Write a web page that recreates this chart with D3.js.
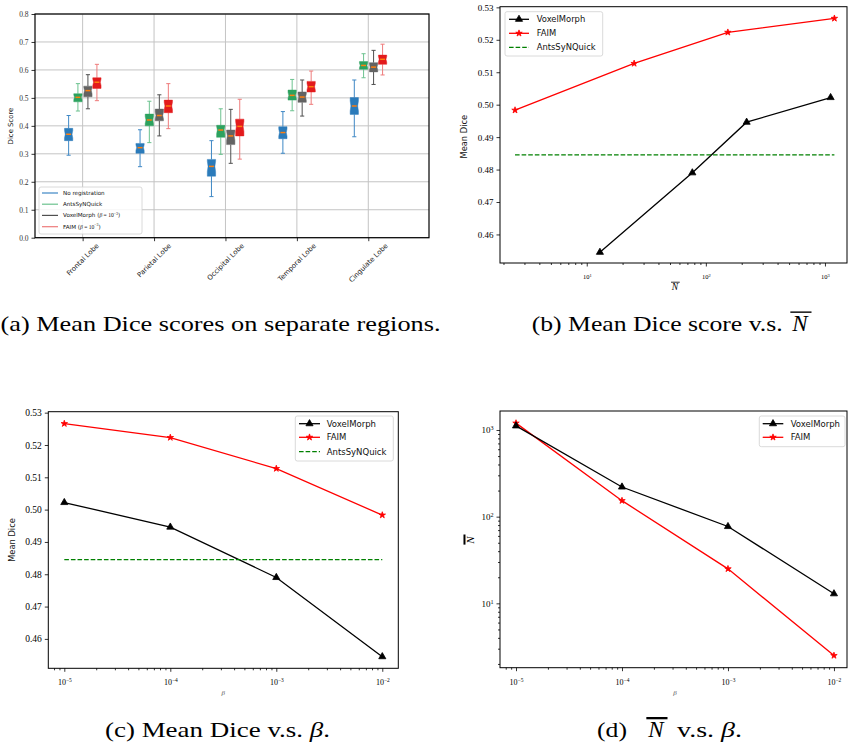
<!doctype html>
<html>
<head>
<meta charset="utf-8">
<title>Mean Dice figure</title>
<script src="https://d3js.org/d3.v7.min.js"></script>
<style>
  body { margin:0; background:#fff; }
  svg { display:block; background:#fff; }
</style>
</head>
<body>
<svg id="fig" width="848" height="742"></svg>
<script>

// ---- data (a): box stats per region, [low whisker, q1, median, q3, high whisker]
var regions = ["Frontal Lobe", "Parietal Lobe", "Occipital Lobe", "Temporal Lobe", "Cingulate Lobe"]
var methodNames = ["No registration", "AntsSyNQuick", "VoxelMorph", "FAIM"]
var noReg = [[0.295, 0.347, 0.370, 0.391, 0.437], [0.254, 0.302, 0.322, 0.337, 0.386],
             [0.147, 0.220, 0.255, 0.280, 0.347], [0.302, 0.354, 0.376, 0.397, 0.451],
             [0.361, 0.441, 0.471, 0.501, 0.564]]
var antsBox = [[0.453, 0.486, 0.502, 0.515, 0.551], [0.340, 0.400, 0.421, 0.442, 0.488],
               [0.298, 0.359, 0.385, 0.402, 0.461], [0.454, 0.492, 0.509, 0.528, 0.566],
               [0.572, 0.602, 0.616, 0.630, 0.658]]
var vmBox = [[0.461, 0.504, 0.526, 0.542, 0.583], [0.364, 0.418, 0.437, 0.460, 0.511],
             [0.266, 0.333, 0.364, 0.385, 0.459], [0.435, 0.484, 0.503, 0.521, 0.564],
             [0.548, 0.593, 0.610, 0.626, 0.670]]
var faimBox = [[0.490, 0.534, 0.556, 0.572, 0.620], [0.390, 0.447, 0.471, 0.492, 0.551],
               [0.281, 0.364, 0.398, 0.424, 0.495], [0.477, 0.521, 0.540, 0.559, 0.596],
               [0.582, 0.620, 0.638, 0.653, 0.692]]
var diceTicks = [0, 0.1, 0.2, 0.3, 0.4, 0.5, 0.6, 0.7, 0.8]

// ---- data (b)(c)(d)
var beta = [1e-5, 1e-4, 1e-3, 1e-2]
var vmDice = [0.5022, 0.4946, 0.4790, 0.4545]
var faimDice = [0.5266, 0.5223, 0.5127, 0.4983]
var vmN = [1115, 220, 77, 12.9]
var faimN = [1200, 153, 25, 2.5]
var antsDice = 0.4845
var meanTicks = [0.46, 0.47, 0.48, 0.49, 0.50, 0.51, 0.52, 0.53]

var SERIF = "'Liberation Serif', 'DejaVu Serif', serif"
var SANS = "'DejaVu Sans', sans-serif"
var svg = d3.select("#fig")

function isPow10(d) { var l = Math.log10(d); return Math.abs(l - Math.round(l)) < 1e-6 }

function styleAxis(ax, font, size) {
  ax.attr("font-family", font).attr("font-size", size)
  ax.select(".domain").remove()
  ax.selectAll(".tick line").attr("stroke", "#000").attr("stroke-width", 0.8)
  ax.selectAll(".tick text").attr("fill", "#000")
}

function powLabels(ax) {
  ax.selectAll(".tick text").each(function(d) {
    var e = Math.round(Math.log10(d)), t = d3.select(this)
    t.text("10")
    t.append("tspan").attr("dy", "-0.5em").attr("font-size", "68%")
      .text(e < 0 ? "\u2212" + (-e) : String(e))
  })
}

function logAxis(g, scale, orient, box, size) {
  var all = scale.ticks()
  var major = all.filter(isPow10), minor = all.filter(function(d) { return !isPow10(d) })
  var mk = orient == "bottom" ? d3.axisBottom : d3.axisLeft
  var tr = orient == "bottom" ? "translate(0," + box.b + ")" : "translate(" + box.l + ",0)"
  g.append("g").attr("transform", tr)
    .call(mk(scale).tickValues(minor).tickSize(2).tickFormat(function() { return "" }))
    .call(styleAxis, SERIF, size)
  var ax = g.append("g").attr("transform", tr)
    .call(mk(scale).tickValues(major).tickSize(3.5).tickPadding(3))
    .call(styleAxis, SERIF, size)
  powLabels(ax)
  return ax
}

function linAxisLeft(g, scale, box, vals, fmt, size) {
  return g.append("g").attr("transform", "translate(" + box.l + ",0)")
    .call(d3.axisLeft(scale).tickValues(vals).tickFormat(d3.format(fmt)).tickSize(3.5).tickPadding(3))
    .call(styleAxis, SERIF, size)
}

function frame(g, box, w) {
  g.append("rect").attr("x", box.l).attr("y", box.t)
    .attr("width", box.r - box.l).attr("height", box.b - box.t)
    .attr("fill", "none").attr("stroke", "#000").attr("stroke-width", w || 1)
}

var triangle = d3.symbol().type(d3.symbolTriangle).size(22)
var star = d3.symbol().type(d3.symbolStar).size(13)

function series(g, xs, ys, x, y, color, sym) {
  var pts = xs.map(function(v, i) { return [x(v), y(ys[i])] })
  g.append("path").attr("d", d3.line()(pts)).attr("fill", "none")
    .attr("stroke", color).attr("stroke-width", 1.3)
  g.selectAll(null).data(pts).enter().append("path").attr("d", sym)
    .attr("transform", function(p) { return "translate(" + p + ")" })
    .attr("fill", color).attr("stroke", color).attr("stroke-width", 0.8)
}

function hline(g, ext, val, x, y) {
  g.append("line").attr("x1", x(ext[0])).attr("x2", x(ext[1]))
    .attr("y1", y(val)).attr("y2", y(val))
    .attr("stroke", "#008000").attr("stroke-width", 1.3).attr("stroke-dasharray", "4.6,2")
}

function legend(g, L, rows) {
  g.append("rect").attr("x", L.x).attr("y", L.y).attr("width", L.w).attr("height", L.h).attr("rx", 2)
    .attr("fill", "#fff").attr("fill-opacity", 0.85).attr("stroke", "#d0d0d0").attr("stroke-width", 0.8)
  rows.forEach(function(r, i) {
    var yy = L.rows[i]
    var ln = g.append("line").attr("x1", L.l1).attr("x2", L.l2).attr("y1", yy).attr("y2", yy)
      .attr("stroke", r.color).attr("stroke-width", L.lw || 1.3)
    if (r.dash) ln.attr("stroke-dasharray", "4.6,2")
    if (r.sym) g.append("path").attr("d", r.sym).attr("transform", "translate(" + ((L.l1 + L.l2) / 2) + "," + yy + ")")
      .attr("fill", r.color).attr("stroke", r.color).attr("stroke-width", 0.8)
    var t = g.append("text").attr("x", L.tx).attr("y", yy).attr("dy", "0.36em")
      .attr("font-family", SANS).attr("font-size", L.fs).attr("fill", "#111")
    t.append("tspan").text(r.label)
    if (r.beta) {
      t.append("tspan").text(" (")
      t.append("tspan").attr("font-family", SERIF).attr("font-style", "italic").text("\u03b2")
      t.append("tspan").attr("font-family", SERIF).text(" = 10")
      t.append("tspan").attr("font-family", SERIF).attr("font-size", L.fs * 0.7).attr("dy", -2.4).text("\u22123")
      t.append("tspan").attr("dy", 2.4).text(")")
    }
  })
}

function nbar(g, x, y, size, barW, rotate) {
  var gg = g.append("g").attr("transform", "translate(" + x + "," + y + ")" + (rotate ? " rotate(-90)" : ""))
  gg.append("text").attr("text-anchor", "middle").attr("font-family", SERIF).attr("font-style", "italic")
    .attr("font-size", size).attr("fill", "#000").text("N")
  gg.append("line").attr("x1", -size * 0.42).attr("x2", size * 0.5)
    .attr("y1", -size * 0.82).attr("y2", -size * 0.82).attr("stroke", "#000").attr("stroke-width", barW)
}

// ================= (a) box plot =================
var A = {l: 35, r: 429, t: 14, b: 237.7}
var ga = svg.append("g")
var xa = d3.scaleLinear().domain([0.333, 5.85]).range([A.l, A.r])
var ya = d3.scaleLinear().domain([0, 0.8]).range([A.b, A.t])

ga.selectAll(".hg").data(diceTicks).enter().append("line")
  .attr("x1", A.l).attr("x2", A.r).attr("y1", function(d) { return ya(d) }).attr("y2", function(d) { return ya(d) })
  .attr("stroke", "#c4c4c4").attr("stroke-width", 1)
ga.selectAll(".vg").data(regions).enter().append("line")
  .attr("x1", function(d, i) { return xa(i + 1) }).attr("x2", function(d, i) { return xa(i + 1) })
  .attr("y1", A.t).attr("y2", A.b).attr("stroke", "#c4c4c4").attr("stroke-width", 1)

var boxSets = [noReg, antsBox, vmBox, faimBox]
var boxFill = ["#2b7bba", "#2ca25f", "#636363", "#e31a1c"]
var whiskCol = ["#3f88c5", "#6cc28f", "#505050", "#ee7b7b"]
var offsets = [-0.196, -0.066, 0.074, 0.2]
var bw = 0.116

boxSets.forEach(function(set, k) {
  set.forEach(function(s, i) {
    var cx = xa(i + 1 + offsets[k]), w = (xa(bw) - xa(0)) / 2
    var lo = ya(s[0]), q1 = ya(s[1]), md = ya(s[2]), q3 = ya(s[3]), hi = ya(s[4])
    var g = ga.append("g")
    g.append("line").attr("x1", cx).attr("x2", cx).attr("y1", lo).attr("y2", q1)
      .attr("stroke", whiskCol[k]).attr("stroke-width", 1)
    g.append("line").attr("x1", cx).attr("x2", cx).attr("y1", q3).attr("y2", hi)
      .attr("stroke", whiskCol[k]).attr("stroke-width", 1)
    ;[lo, hi].forEach(function(yy) {
      g.append("line").attr("x1", cx - w / 2).attr("x2", cx + w / 2).attr("y1", yy).attr("y2", yy)
        .attr("stroke", whiskCol[k]).attr("stroke-width", 1)
    })
    var n = Math.min((q1 - q3) * 0.3, (q1 - md) * 0.8, (md - q3) * 0.8)
    var p = d3.path()
    p.moveTo(cx - w, q1); p.lineTo(cx + w, q1); p.lineTo(cx + w, md + n); p.lineTo(cx + w * 0.82, md)
    p.lineTo(cx + w, md - n); p.lineTo(cx + w, q3); p.lineTo(cx - w, q3); p.lineTo(cx - w, md - n)
    p.lineTo(cx - w * 0.82, md); p.lineTo(cx - w, md + n); p.closePath()
    g.append("path").attr("d", p.toString()).attr("fill", boxFill[k])
      .attr("stroke", boxFill[k]).attr("stroke-opacity", 0.45).attr("stroke-width", 1)
    g.append("line").attr("x1", cx - w * 0.6).attr("x2", cx + w * 0.6).attr("y1", md).attr("y2", md)
      .attr("stroke", "#ff7f0e").attr("stroke-width", 1.5)
  })
})

frame(ga, A, 1.2)
linAxisLeft(ga, ya, A, diceTicks, ".1f", 7.5).selectAll(".tick text").attr("fill", "#333")
var xaAx = ga.append("g").attr("transform", "translate(0," + A.b + ")")
  .call(d3.axisBottom(xa).tickValues([1, 2, 3, 4, 5]).tickSize(3.5).tickFormat(function() { return "" }))
  .call(styleAxis, SANS, 6.9)
regions.forEach(function(r, i) {
  var t = ga.append("text").attr("font-family", SANS).attr("font-size", 6.9).attr("fill", "#222")
    .attr("text-anchor", "middle").attr("dy", "0.35em").text(r)
  var L = t.node().getComputedTextLength()
  var half = (L + 5) * 0.7071 / 2
  t.attr("transform", "translate(" + xa(i + 1) + "," + (A.b + 5 + half) + ") rotate(-45)")
})
ga.append("text").attr("transform", "translate(13.3,126) rotate(-90)").attr("text-anchor", "middle")
  .attr("font-family", SANS).attr("font-size", 6.9).attr("fill", "#111").text("Dice Score")
legend(ga, {x: 39, y: 187, w: 103, h: 47, l1: 42, l2: 58, tx: 63, fs: 5.6, lw: 1.2,
            rows: [193, 204.2, 215.4, 226.7]},
  methodNames.map(function(m, k) { return {label: m, color: whiskCol[k], beta: k >= 2} }))

// ================= (b) Mean Dice vs N =================
var B = {l: 500, r: 847, t: 6.7, b: 263}
var gb = svg.append("g")
var xb = d3.scaleLog().domain([1.87, 1531]).range([B.l, B.r])
var yb = d3.scaleLinear().domain([0.4512, 0.5302]).range([B.b, B.t])
series(gb, faimN, faimDice, xb, yb, "#ff0000", star)
series(gb, vmN, vmDice, xb, yb, "#000", triangle)
hline(gb, d3.extent(faimN), antsDice, xb, yb)
frame(gb, B)
linAxisLeft(gb, yb, B, meanTicks, ".2f", 9)
logAxis(gb, xb, "bottom", B, 6.5).selectAll(".tick text").attr("dy", "1.5em")
gb.append("text").attr("transform", "translate(466.7,136.7) rotate(-90)").attr("text-anchor", "middle")
  .attr("font-family", SANS).attr("font-size", 8.3).attr("fill", "#111").text("Mean Dice")
nbar(gb, 675, 290, 9.5, 0.8, false)
legend(gb, {x: 505, y: 11.7, w: 97.7, h: 44.3, l1: 509, l2: 529, tx: 536.7, fs: 8.4, rows: [19.3, 33.3, 47.3]},
  [{label: "VoxelMorph", color: "#000", sym: triangle},
   {label: "FAIM", color: "#ff0000", sym: star},
   {label: "AntsSyNQuick", color: "#008000", dash: true}])

// ================= (c) Mean Dice vs beta =================
var C = {l: 48.3, r: 398.3, t: 411.7, b: 668.3}
var gc = svg.append("g")
var xc = d3.scaleLog().domain([Math.pow(10, -5.151), Math.pow(10, -1.849)]).range([C.l, C.r])
var yc = d3.scaleLinear().domain([0.4509, 0.5303]).range([C.b, C.t])
series(gc, beta, faimDice, xc, yc, "#ff0000", star)
series(gc, beta, vmDice, xc, yc, "#000", triangle)
hline(gc, d3.extent(beta), antsDice, xc, yc)
frame(gc, C)
linAxisLeft(gc, yc, C, meanTicks, ".2f", 9.5)
logAxis(gc, xc, "bottom", C, 8).selectAll(".tick text").attr("dy", "1.3em")
gc.append("text").attr("transform", "translate(15,540) rotate(-90)").attr("text-anchor", "middle")
  .attr("font-family", SANS).attr("font-size", 8.3).attr("fill", "#111").text("Mean Dice")
gc.append("text").attr("x", 223.3).attr("y", 695).attr("text-anchor", "middle").attr("font-family", SERIF)
  .attr("font-style", "italic").attr("font-size", 7).attr("fill", "#555").text("\u03b2")
legend(gc, {x: 295.3, y: 416, w: 98, h: 45, l1: 299, l2: 320, tx: 326.7, fs: 8.5, rows: [423.7, 437.3, 451.7]},
  [{label: "VoxelMorph", color: "#000", sym: triangle},
   {label: "FAIM", color: "#ff0000", sym: star},
   {label: "AntsSyNQuick", color: "#008000", dash: true}])

// ================= (d) N vs beta =================
var D = {l: 500, r: 847, t: 411, b: 667.7}
var gd = svg.append("g")
var xd = d3.scaleLog().domain([Math.pow(10, -5.151), Math.pow(10, -1.877)]).range([D.l, D.r])
var yd = d3.scaleLog().domain([1.81, 1656]).range([D.b, D.t])
series(gd, beta, faimN, xd, yd, "#ff0000", star)
series(gd, beta, vmN, xd, yd, "#000", triangle)
frame(gd, D)
logAxis(gd, yd, "left", D, 9)
logAxis(gd, xd, "bottom", D, 8).selectAll(".tick text").attr("dy", "1.3em")
nbar(gd, 473.5, 540, 11, 2, true)
gd.append("text").attr("x", 675).attr("y", 695).attr("text-anchor", "middle").attr("font-family", SERIF)
  .attr("font-style", "italic").attr("font-size", 7).attr("fill", "#555").text("\u03b2")
legend(gd, {x: 759.3, y: 416, w: 85.7, h: 30.7, l1: 762.7, l2: 783.3, tx: 790.7, fs: 8.5, rows: [423.7, 437.3]},
  [{label: "VoxelMorph", color: "#000", sym: triangle},
   {label: "FAIM", color: "#ff0000", sym: star}])

// ================= captions =================
function cap(x, y, len, str) {
  return svg.append("text").attr("x", x).attr("y", y).attr("font-family", SERIF).attr("font-size", 21)
    .attr("fill", "#000").attr("textLength", len).attr("lengthAdjust", "spacingAndGlyphs").text(str)
}
cap(0.5, 331, 440, "(a) Mean Dice scores on separate regions.")
cap(531.7, 331, 251, "(b) Mean Dice score v.s.")
nbar(svg, 800, 331, 23, 1.4, false)
var tc = cap(105, 737, 225, "(c) Mean Dice v.s. ")
tc.append("tspan").attr("font-style", "italic").text("\u03b2")
tc.append("tspan").text(".")
cap(597, 737, 30, "(d)")
nbar(svg, 656, 737, 23, 2.3, false)
var td = cap(677, 737, 65, "v.s. ")
td.append("tspan").attr("font-style", "italic").text("\u03b2")
td.append("tspan").text(".")

</script>
</body>
</html>
